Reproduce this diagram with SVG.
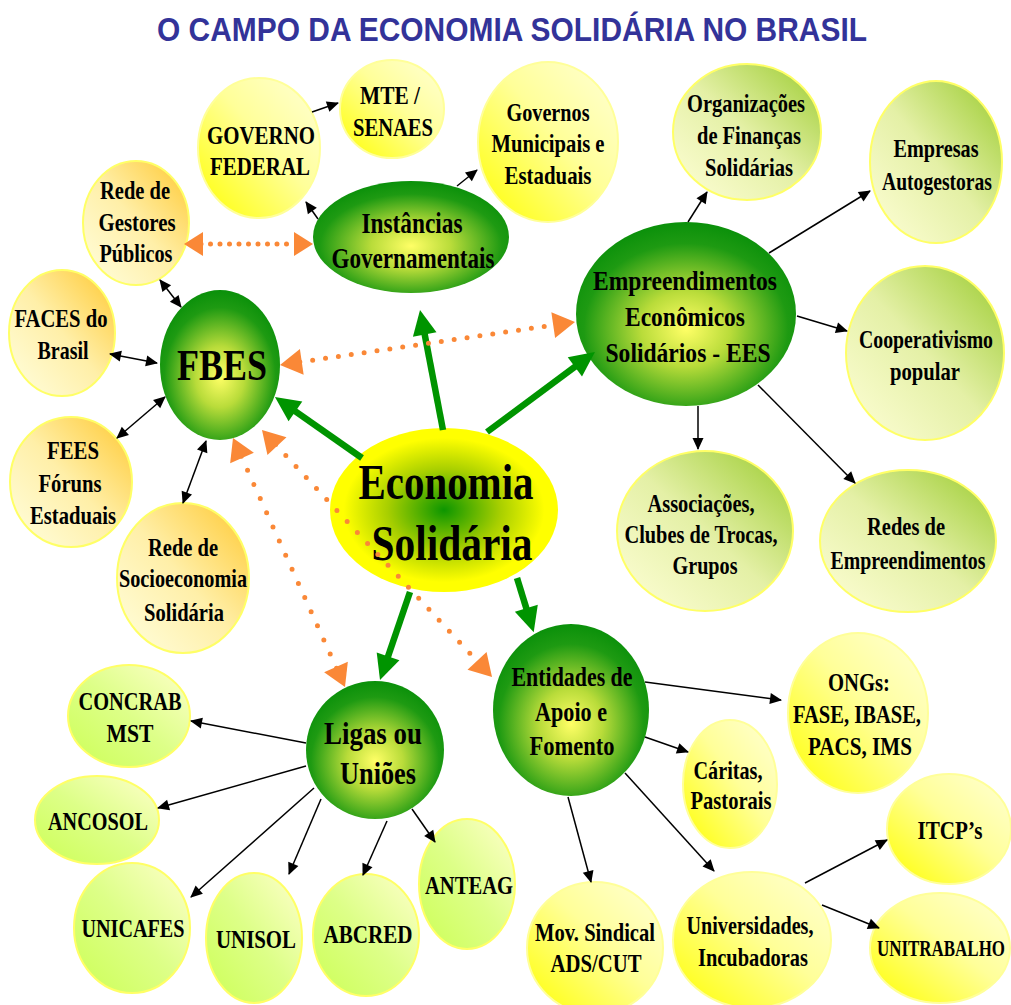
<svg xmlns="http://www.w3.org/2000/svg" width="1011" height="1005" viewBox="0 0 1011 1005">
<style>
text{font-family:"Liberation Serif","Times New Roman",serif;font-weight:bold;fill:#000;text-anchor:middle;dominant-baseline:central;}
.title{font-family:"Liberation Sans",Arial,sans-serif;fill:#333399;font-size:34px;}
.y{fill:url(#gY);stroke:#FFFF99;stroke-width:2}
.o{fill:url(#gO);stroke:#FFFF66;stroke-width:2}
.lg{fill:url(#gLG);stroke:#FFFF66;stroke-width:2}
.li{fill:url(#gLi);stroke:#FFFF66;stroke-width:2}
.dg{fill:url(#gDG)}
.blk{stroke:#000;stroke-width:1.5;fill:none;marker-end:url(#mb)}
.dbl{marker-start:url(#mb)}
.grn{stroke:#009400;stroke-width:6.5;fill:none;marker-end:url(#mg)}
.org{stroke:#FA8837;stroke-width:5;fill:none;stroke-linecap:round;marker-start:url(#mo);marker-end:url(#mo)}
</style>
<defs>
<linearGradient id="gY" x1="1" y1="0" x2="0" y2="1">
<stop offset="0" stop-color="#FFFFD6"/><stop offset="0.45" stop-color="#FFFF99"/><stop offset="1" stop-color="#FFFF00"/>
</linearGradient>
<linearGradient id="gO" x1="1" y1="0" x2="0" y2="1">
<stop offset="0" stop-color="#FFC830"/><stop offset="0.5" stop-color="#FFEFA8"/><stop offset="1" stop-color="#FFFFE0"/>
</linearGradient>
<linearGradient id="gLG" x1="1" y1="0" x2="0" y2="1">
<stop offset="0" stop-color="#9ACB2E"/><stop offset="0.5" stop-color="#E4F0A6"/><stop offset="1" stop-color="#FFFFD8"/>
</linearGradient>
<linearGradient id="gLi" x1="0" y1="1" x2="1" y2="0">
<stop offset="0" stop-color="#CCFF55"/><stop offset="0.5" stop-color="#DDFF88"/><stop offset="1" stop-color="#FFFFCC"/>
</linearGradient>
<radialGradient id="gDG" cx="0.5" cy="0.58" r="0.58">
<stop offset="0" stop-color="#FFFF66"/><stop offset="0.35" stop-color="#B9DC3A"/><stop offset="0.8" stop-color="#1E9A12"/><stop offset="1" stop-color="#0A900A"/>
</radialGradient>
<radialGradient id="gES" cx="0.5" cy="0.5" r="0.55">
<stop offset="0" stop-color="#0D9600"/><stop offset="0.45" stop-color="#A8CF00"/><stop offset="0.8" stop-color="#FFFF00"/><stop offset="1" stop-color="#FFFF00"/>
</radialGradient>
<marker id="mb" markerUnits="userSpaceOnUse" markerWidth="14" markerHeight="14" refX="11" refY="0" orient="auto-start-reverse" overflow="visible">
<path d="M0,-5.5 L12,0 L0,5.5 z" fill="#000"/>
</marker>
<marker id="mg" markerUnits="userSpaceOnUse" markerWidth="30" markerHeight="30" refX="7" refY="0" orient="auto" overflow="visible">
<path d="M0,-12 L25,0 L0,12 z" fill="#009400"/>
</marker>
<marker id="mo" markerUnits="userSpaceOnUse" markerWidth="30" markerHeight="30" refX="2" refY="0" orient="auto-start-reverse" overflow="visible">
<path d="M0,-13 L22,0 L0,13 z" fill="#FA8837"/>
</marker>
<marker id="mo2" markerUnits="userSpaceOnUse" markerWidth="30" markerHeight="30" refX="2" refY="0" orient="auto-start-reverse" overflow="visible">
<path d="M0,-12 L19,0 L0,12 z" fill="#FA8837"/>
</marker>
</defs>
<rect width="1011" height="1005" fill="#FFFFFF"/>
<text class="title" x="512" y="29" textLength="710" lengthAdjust="spacingAndGlyphs">O CAMPO DA ECONOMIA SOLIDÁRIA NO BRASIL</text>

<g id="nodes" font-size="26">
<g id="governo-federal"><ellipse class="y" cx="259" cy="148" rx="61" ry="70"/>
<text x="261" y="135" textLength="108" lengthAdjust="spacingAndGlyphs">GOVERNO</text>
<text x="260" y="166" textLength="100" lengthAdjust="spacingAndGlyphs">FEDERAL</text></g>
<g id="mte-senaes"><ellipse class="y" cx="392" cy="109" rx="52" ry="49"/>
<text x="390" y="95" textLength="60" lengthAdjust="spacingAndGlyphs">MTE /</text>
<text x="393" y="127" textLength="80" lengthAdjust="spacingAndGlyphs">SENAES</text></g>
<g id="governos-municipais"><ellipse class="y" cx="548" cy="142" rx="70" ry="80"/>
<text x="548" y="112" textLength="83" lengthAdjust="spacingAndGlyphs">Governos</text>
<text x="548" y="143" textLength="113" lengthAdjust="spacingAndGlyphs">Municipais e</text>
<text x="548" y="175" textLength="87" lengthAdjust="spacingAndGlyphs">Estaduais</text></g>
<g id="instancias"><ellipse class="dg" cx="411" cy="237" rx="98" ry="56"/>
<text x="412" y="223" font-size="29" textLength="101" lengthAdjust="spacingAndGlyphs">Instâncias</text>
<text x="413" y="258" font-size="29" textLength="163" lengthAdjust="spacingAndGlyphs">Governamentais</text></g>
<g id="rede-gestores"><ellipse class="o" cx="136" cy="223" rx="53" ry="62"/>
<text x="135" y="190" textLength="70" lengthAdjust="spacingAndGlyphs">Rede de</text>
<text x="137" y="222" textLength="77" lengthAdjust="spacingAndGlyphs">Gestores</text>
<text x="136" y="253" textLength="73" lengthAdjust="spacingAndGlyphs">Públicos</text></g>
<g id="faces"><ellipse class="o" cx="62" cy="333" rx="53" ry="63"/>
<text x="61" y="318" textLength="93" lengthAdjust="spacingAndGlyphs">FACES do</text>
<text x="63" y="350" textLength="51" lengthAdjust="spacingAndGlyphs">Brasil</text></g>
<g id="fbes"><ellipse class="dg" cx="220" cy="365" rx="60" ry="75"/>
<text x="222" y="365" font-size="45" textLength="90" lengthAdjust="spacingAndGlyphs">FBES</text></g>
<g id="fees"><ellipse class="o" cx="71" cy="482" rx="61" ry="65"/>
<text x="73" y="450" textLength="52" lengthAdjust="spacingAndGlyphs">FEES</text>
<text x="70" y="483" textLength="63" lengthAdjust="spacingAndGlyphs">Fóruns</text>
<text x="73" y="515" textLength="86" lengthAdjust="spacingAndGlyphs">Estaduais</text></g>
<g id="rede-socioeconomia"><ellipse class="o" cx="183" cy="578" rx="66" ry="75"/>
<text x="183" y="547" textLength="70" lengthAdjust="spacingAndGlyphs">Rede de</text>
<text x="183" y="578" textLength="128" lengthAdjust="spacingAndGlyphs">Socioeconomia</text>
<text x="184" y="612" textLength="80" lengthAdjust="spacingAndGlyphs">Solidária</text></g>
<g id="economia-solidaria"><ellipse fill="url(#gES)" cx="444" cy="510" rx="114" ry="82"/>
<text x="446" y="482" font-size="50" textLength="175" lengthAdjust="spacingAndGlyphs">Economia</text>
<text x="452" y="543" font-size="50" textLength="161" lengthAdjust="spacingAndGlyphs">Solidária</text></g>
<g id="ees"><ellipse class="dg" cx="686" cy="314" rx="110" ry="92"/>
<text x="685" y="280" font-size="28" textLength="184" lengthAdjust="spacingAndGlyphs">Empreendimentos</text>
<text x="685" y="316" font-size="28" textLength="120" lengthAdjust="spacingAndGlyphs">Econômicos</text>
<text x="688" y="352" font-size="28" textLength="165" lengthAdjust="spacingAndGlyphs">Solidários - EES</text></g>
<g id="financas"><ellipse class="lg" cx="747" cy="132" rx="74" ry="68"/>
<text x="746" y="103" textLength="118" lengthAdjust="spacingAndGlyphs">Organizações</text>
<text x="749" y="135" textLength="104" lengthAdjust="spacingAndGlyphs">de Finanças</text>
<text x="749" y="167" textLength="88" lengthAdjust="spacingAndGlyphs">Solidárias</text></g>
<g id="empresas"><ellipse class="lg" cx="936" cy="162" rx="66" ry="81"/>
<text x="936" y="148" textLength="85" lengthAdjust="spacingAndGlyphs">Empresas</text>
<text x="937" y="181" textLength="110" lengthAdjust="spacingAndGlyphs">Autogestoras</text></g>
<g id="cooperativismo"><ellipse class="lg" cx="925" cy="353" rx="79" ry="87"/>
<text x="926" y="339" textLength="134" lengthAdjust="spacingAndGlyphs">Cooperativismo</text>
<text x="925" y="371" textLength="70" lengthAdjust="spacingAndGlyphs">popular</text></g>
<g id="associacoes"><ellipse class="lg" cx="705" cy="531" rx="88" ry="80"/>
<text x="701" y="503" textLength="107" lengthAdjust="spacingAndGlyphs">Associações,</text>
<text x="701" y="534" textLength="153" lengthAdjust="spacingAndGlyphs">Clubes de Trocas,</text>
<text x="705" y="565" textLength="65" lengthAdjust="spacingAndGlyphs">Grupos</text></g>
<g id="redes"><ellipse class="lg" cx="908" cy="541" rx="88" ry="71"/>
<text x="906" y="526" textLength="78" lengthAdjust="spacingAndGlyphs">Redes de</text>
<text x="908" y="560" textLength="155" lengthAdjust="spacingAndGlyphs">Empreendimentos</text></g>
<g id="ligas"><ellipse class="dg" cx="375" cy="750" rx="69" ry="69"/>
<text x="373" y="733" font-size="32" textLength="98" lengthAdjust="spacingAndGlyphs">Ligas ou</text>
<text x="378" y="773" font-size="32" textLength="76" lengthAdjust="spacingAndGlyphs">Uniões</text></g>
<g id="concrab"><ellipse class="li" cx="129" cy="716" rx="61" ry="51"/>
<text x="130" y="701" textLength="103" lengthAdjust="spacingAndGlyphs">CONCRAB</text>
<text x="130" y="733" textLength="47" lengthAdjust="spacingAndGlyphs">MST</text></g>
<g id="ancosol"><ellipse class="li" cx="97" cy="820" rx="62" ry="44"/>
<text x="98" y="821" textLength="100" lengthAdjust="spacingAndGlyphs">ANCOSOL</text></g>
<g id="unicafes"><ellipse class="li" cx="132" cy="928" rx="58" ry="65"/>
<text x="133" y="928" textLength="103" lengthAdjust="spacingAndGlyphs">UNICAFES</text></g>
<g id="unisol"><ellipse class="li" cx="254" cy="938" rx="48" ry="65"/>
<text x="256" y="939" textLength="80" lengthAdjust="spacingAndGlyphs">UNISOL</text></g>
<g id="abcred"><ellipse class="li" cx="366" cy="935" rx="53" ry="61"/>
<text x="368" y="934" textLength="89" lengthAdjust="spacingAndGlyphs">ABCRED</text></g>
<g id="anteag"><ellipse class="li" cx="467" cy="884" rx="48" ry="65"/>
<text x="469" y="885" textLength="88" lengthAdjust="spacingAndGlyphs">ANTEAG</text></g>
<g id="entidades"><ellipse class="dg" cx="571" cy="710" rx="78" ry="86"/>
<text x="572" y="677" font-size="27" textLength="121" lengthAdjust="spacingAndGlyphs">Entidades de</text>
<text x="571" y="712" font-size="27" textLength="72" lengthAdjust="spacingAndGlyphs">Apoio e</text>
<text x="572" y="746" font-size="27" textLength="85" lengthAdjust="spacingAndGlyphs">Fomento</text></g>
<g id="ongs"><ellipse class="y" cx="858" cy="713" rx="70" ry="80"/>
<text x="859" y="682" textLength="62" lengthAdjust="spacingAndGlyphs">ONGs:</text>
<text x="857" y="714" textLength="128" lengthAdjust="spacingAndGlyphs">FASE, IBASE,</text>
<text x="860" y="746" textLength="104" lengthAdjust="spacingAndGlyphs">PACS, IMS</text></g>
<g id="caritas"><ellipse class="y" cx="730" cy="784" rx="47" ry="64"/>
<text x="728" y="770" textLength="69" lengthAdjust="spacingAndGlyphs">Cáritas,</text>
<text x="731" y="800" textLength="81" lengthAdjust="spacingAndGlyphs">Pastorais</text></g>
<g id="itcps"><ellipse class="y" cx="949" cy="829" rx="62" ry="55"/>
<text x="950" y="830" textLength="65" lengthAdjust="spacingAndGlyphs">ITCP’s</text></g>
<g id="unitrabalho"><ellipse class="y" cx="940" cy="948" rx="70" ry="55"/>
<text x="941" y="948" font-size="23" textLength="128" lengthAdjust="spacingAndGlyphs">UNITRABALHO</text></g>
<g id="mov-sindical"><ellipse class="y" cx="595" cy="948" rx="68" ry="66"/>
<text x="595" y="932" textLength="120" lengthAdjust="spacingAndGlyphs">Mov. Sindical</text>
<text x="596" y="963" textLength="91" lengthAdjust="spacingAndGlyphs">ADS/CUT</text></g>
<g id="universidades"><ellipse class="y" cx="752" cy="940" rx="79" ry="68"/>
<text x="750" y="925" textLength="127" lengthAdjust="spacingAndGlyphs">Universidades,</text>
<text x="753" y="957" textLength="110" lengthAdjust="spacingAndGlyphs">Incubadoras</text></g>
</g>

<g id="connectors">
<path class="blk" d="M312,112 L338,103"/>
<path class="blk" d="M318,219 L306,202"/>
<path class="blk" d="M457,186 L477,170"/>
<path class="blk dbl" d="M160,280 L181,307"/>
<path class="blk dbl" d="M110,354 L157,363"/>
<path class="blk dbl" d="M117,438 L165,397"/>
<path class="blk dbl" d="M183,503 L206,441"/>
<path class="blk" d="M688,222 L707,192"/>
<path class="blk" d="M769,253 L870,191"/>
<path class="blk" d="M797,316 L847,331"/>
<path class="blk" d="M698,406 L698,449"/>
<path class="blk" d="M758,385 L855,483"/>
<path class="blk" d="M306,743 L191,721"/>
<path class="blk" d="M306,766 L158,808"/>
<path class="blk" d="M314,788 L191,897"/>
<path class="blk" d="M321,799 L289,874"/>
<path class="blk" d="M387,821 L363,875"/>
<path class="blk" d="M412,809 L435,842"/>
<path class="blk" d="M645,682 L781,700"/>
<path class="blk" d="M645,737 L688,752"/>
<path class="blk" d="M625,773 L714,871"/>
<path class="blk" d="M568,797 L591,882"/>
<path class="blk" d="M805,883 L887,840"/>
<path class="blk" d="M822,905 L879,928"/>
<path class="grn" d="M362,458 L289.7,407.4"/>
<path class="grn" d="M443,430 L423.4,327.7"/>
<path class="grn" d="M487,432 L580.5,362.7"/>
<path class="grn" d="M410,592 L385.8,663"/>
<path class="grn" d="M517,578 L528.4,615"/>
<path class="org" d="M201,244 L296,244" stroke-width="4.5" stroke-dasharray="0 9.5" style="marker-start:url(#mo2);marker-end:url(#mo2)"/>
<path class="org" d="M299.8,362.1 L555.2,324.9" stroke-dasharray="0 13"/>
<path class="org" d="M241.2,456.2 L336.8,668.8" stroke-dasharray="0 15.5"/>
<path class="org" d="M275.6,444.6 L478.4,662.4" stroke-dasharray="0 15"/>
</g>
</svg>
